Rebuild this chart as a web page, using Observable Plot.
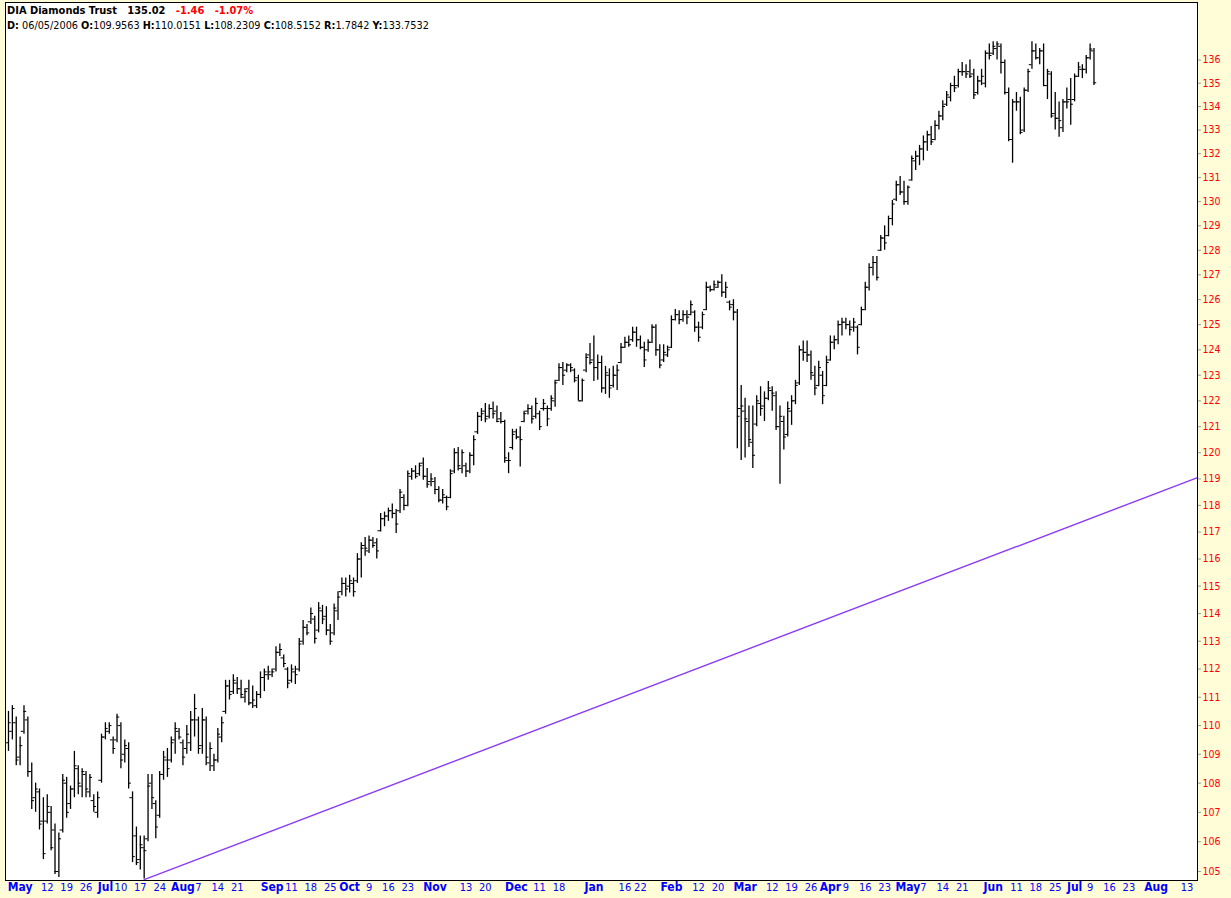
<!DOCTYPE html>
<html><head><meta charset="utf-8">
<script src="https://cdn.jsdelivr.net/npm/d3@7"></script>
<script src="https://cdn.jsdelivr.net/npm/@observablehq/plot@0.6"></script>
<style>
html,body{margin:0;padding:0;background:#fffcd8;}
#wrap{position:relative;width:1231px;height:898px;overflow:hidden;}
#hdr{position:absolute;left:7px;top:3px;font-family:"DejaVu Sans Condensed","DejaVu Sans",sans-serif;color:#000;white-space:pre;}
#hdr .l1{font-size:11px;font-weight:bold;line-height:15px;}
#hdr .l2{font-size:10.8px;line-height:15px;}
#hdr .red{color:#ff0000;}
</style></head><body>
<div id="wrap"><div id="chart"></div>
<div id="hdr"><div class="l1">DIA Diamonds Trust   135.02   <span class="red">-1.46   -1.07%</span></div><div class="l2"><b>D:</b> 06/05/2006 <b>O:</b>109.9563 <b>H:</b>110.0151 <b>L:</b>108.2309 <b>C:</b>108.5152 <b>R:</b>1.7842 <b>Y:</b>133.7532</div></div>
</div>
<script>
const opens = [109.4,109.8,110.1,108.9,109.8,110.2,108.4,107.5,107.7,106.7,106.7,107.0,106.4,105.0,106.4,108.0,107.3,107.8,108.5,107.9,108.3,107.7,107.4,107.0,108.1,109.6,109.8,109.5,109.5,110.0,109.0,109.2,107.5,106.2,105.4,105.8,106.1,108.0,107.3,106.9,108.3,108.8,108.8,109.5,109.8,109.4,109.2,109.4,110.2,110.2,109.3,110.2,108.7,108.6,108.8,109.6,110.5,111.4,111.2,111.5,111.3,111.0,111.3,110.8,110.7,111.1,111.7,111.8,111.8,112.0,112.6,112.4,112.0,111.6,111.9,112.0,113.0,113.5,113.7,113.8,113.4,114.1,113.9,113.4,113.3,114.1,114.8,115.1,115.0,115.1,115.2,116.0,116.5,116.3,116.7,116.6,117.05,117.5,117.6,117.8,117.7,117.8,118.3,118.0,119.1,119.3,119.2,119.6,119.1,118.9,118.9,118.6,118.2,118.3,118.3,119.3,120.0,119.4,119.5,119.3,119.9,120.8,121.4,121.6,121.4,121.7,121.6,121.3,121.2,119.7,120.2,120.8,120.6,121.2,121.6,121.7,121.4,121.5,121.7,121.7,121.7,122.0,122.8,123.3,123.2,123.4,123.2,122.9,122.0,123.2,123.8,123.6,123.3,123.5,122.5,123.0,122.6,123.0,123.5,124.1,124.3,124.4,124.7,124.4,124.1,124.0,124.3,124.9,124.0,123.6,123.8,124.1,125.2,125.4,125.2,125.4,125.4,125.5,124.9,124.9,125.6,126.5,126.4,126.5,126.7,126.3,125.9,125.8,125.5,121.7,121.6,121.2,120.4,121.1,121.9,121.8,122.1,122.4,122.2,121.0,121.2,120.7,121.6,122.0,122.7,124.0,123.9,123.8,123.0,122.6,123.0,122.6,123.6,124.3,124.4,125.0,125.1,125.0,124.9,124.9,125.0,125.6,126.5,127.3,127.5,128.0,128.5,128.6,129.3,130.1,130.7,130.4,130.0,130.9,131.7,131.9,132.2,132.5,132.8,132.6,133.2,133.6,134.1,134.4,134.9,134.9,135.5,135.5,135.5,135.4,134.6,135.1,135.0,136.3,136.3,136.5,136.6,135.9,134.6,132.6,134.2,134.2,133.0,134.7,135.8,136.4,136.1,136.4,134.9,135.4,133.7,133.5,133.1,134.2,134.3,134.3,135.3,135.6,135.6,136.1,136.4];
const highs = [110.5,110.7,110.3,109.6,110.7,110.3,108.7,108.0,107.8,107.5,107.6,107.2,106.6,106.3,108.3,108.2,107.9,109.1,108.6,108.5,108.4,108.3,107.6,107.7,109.7,110.1,110.1,109.6,110.4,110.1,109.5,109.4,107.7,106.5,106.2,106.2,108.3,108.3,107.4,108.4,109.1,109.2,109.6,110.1,109.9,109.5,110.0,110.5,111.1,110.3,110.6,110.3,109.4,109.0,109.9,110.3,111.6,111.6,111.8,111.7,111.6,111.3,111.6,111.4,111.2,111.9,112.0,112.1,112.0,112.8,112.9,112.5,112.05,112.15,112.1,113.1,113.75,113.6,114.2,113.9,114.4,114.3,114.25,113.6,114.35,114.8,115.3,115.3,115.4,115.3,116.2,116.6,116.8,116.85,116.8,116.75,117.7,117.75,117.9,118.05,117.85,118.6,118.4,119.3,119.4,119.5,119.6,119.8,119.4,119.2,119.05,118.7,118.6,118.35,119.35,120.15,120.2,120.1,119.6,120.0,120.65,121.55,121.7,121.9,121.85,121.95,121.8,121.55,121.25,120.0,120.9,120.9,121.0,121.6,121.85,121.8,122.1,121.6,122.05,121.8,122.2,122.8,123.45,123.5,123.45,123.45,123.25,123.0,122.85,123.85,124.25,124.55,123.8,123.75,123.35,123.25,123.35,123.4,124.25,124.5,124.55,124.9,124.9,124.55,124.3,124.4,125.0,125.0,124.2,124.2,124.15,125.35,125.6,125.55,125.55,125.55,125.95,125.55,125.1,125.5,126.7,126.55,126.75,126.75,127.0,126.7,125.95,126.0,125.6,122.6,122.1,121.8,121.8,122.2,122.55,122.35,122.75,122.55,122.35,121.8,121.4,121.95,122.2,122.8,124.15,124.35,124.35,123.95,123.35,123.55,123.15,123.75,124.55,124.55,125.15,125.25,125.25,125.15,125.25,124.95,125.7,126.7,127.45,127.75,127.75,128.6,129.0,129.4,130.05,130.85,131.05,130.85,130.65,131.9,132.1,132.35,132.75,132.95,133.15,133.4,133.8,134.25,134.65,135.0,135.3,135.6,135.9,135.8,136.0,135.6,135.3,135.6,136.4,136.7,136.8,136.8,136.7,136.0,134.8,134.3,134.6,134.4,134.8,135.6,136.8,136.7,136.5,136.7,135.6,135.5,134.6,134.2,134.3,134.8,135.2,135.4,135.9,135.8,136.2,136.7,136.5];
const lows = [109.1,109.5,108.6,108.6,109.7,108.2,107.1,107.0,106.4,105.4,106.6,105.7,104.9,104.8,106.3,106.8,107.1,107.5,107.6,107.5,107.5,107.5,107.0,106.8,108.0,109.5,109.7,109.0,109.4,108.5,108.7,107.8,105.3,105.2,105.05,104.75,106.0,107.1,106.1,106.8,108.1,108.2,108.7,109.0,109.5,108.6,109.0,109.1,109.6,109.0,109.0,108.6,108.4,108.4,108.7,109.4,110.4,110.9,111.1,111.1,110.95,110.8,110.7,110.6,110.6,110.95,111.2,111.6,111.7,111.9,112.45,112.05,111.3,111.5,111.45,111.9,112.85,113.2,113.6,112.9,113.3,113.6,113.2,112.85,113.2,113.75,114.65,114.6,114.75,114.6,115.1,115.3,116.1,116.2,116.4,116.0,117.0,117.2,117.4,117.5,116.95,117.7,117.8,117.95,118.95,119.0,119.1,118.95,118.65,118.7,118.4,118.1,118.05,117.8,118.25,119.2,119.3,119.2,119.05,119.2,119.5,120.7,121.2,121.15,121.3,121.3,121.15,121.1,119.6,119.2,120.1,120.5,119.45,121.15,121.45,121.1,121.3,120.85,121.6,121.0,121.6,121.75,122.75,122.6,123.1,123.1,122.7,122.0,121.95,123.1,123.4,122.75,122.8,122.3,122.25,122.1,122.5,122.4,123.45,124.05,124.1,124.3,124.1,124.0,123.3,123.9,124.25,123.75,123.25,123.5,123.7,124.05,125.15,125.0,125.1,125.0,125.35,124.7,124.3,124.8,125.55,126.3,126.35,126.45,126.1,126.05,125.55,125.15,120.15,119.7,119.8,120.2,119.4,121.0,121.4,121.2,122.0,121.6,120.85,118.8,120.1,120.6,121.05,121.85,122.6,123.55,123.5,122.8,122.2,122.55,121.85,122.55,123.55,124.0,124.2,124.55,124.8,124.55,124.7,123.8,124.95,125.55,126.35,126.95,126.75,127.95,128.0,128.55,129.0,130.0,130.25,129.85,129.85,130.85,131.3,131.5,131.7,132.1,132.35,132.55,133.0,133.4,134.0,134.2,134.6,134.8,135.3,135.2,135.2,134.3,134.5,134.9,134.8,136.0,136.2,136.0,135.4,134.5,132.5,131.6,133.8,132.8,132.9,134.6,135.6,136.0,135.8,134.85,134.3,133.5,133.0,132.7,132.9,133.9,133.2,134.2,135.25,135.2,135.4,136.0,134.9];
const closes = [110.1,110.6,108.8,109.3,110.5,108.4,107.4,107.8,106.6,105.6,107.2,105.8,105.0,106.1,108.1,107.0,107.8,108.6,108.0,108.4,107.8,108.2,107.2,107.5,109.6,109.9,110.0,109.2,110.3,108.8,109.3,108.0,105.5,105.3,105.9,105.7,107.9,107.5,106.5,108.3,108.9,108.5,109.4,109.9,109.6,108.9,109.7,110.2,110.6,109.2,110.2,108.9,109.2,108.8,109.7,110.1,111.4,111.1,111.6,111.3,111.1,111.2,110.8,110.9,111.1,111.7,111.9,111.9,111.9,112.6,112.7,112.2,111.5,112.0,111.8,112.9,113.5,113.3,114.0,113.1,114.2,113.8,113.4,113.0,114.2,114.6,115.1,114.9,115.2,114.8,116.0,116.4,116.4,116.7,116.5,116.3,117.5,117.6,117.8,117.7,117.3,118.5,118.0,119.2,119.3,119.1,119.5,119.1,118.8,119.0,118.6,118.2,118.4,117.95,119.2,120.0,119.5,120.0,119.3,119.9,120.5,121.4,121.5,121.3,121.7,121.5,121.2,121.2,119.8,119.7,120.7,120.6,120.5,121.5,121.7,121.3,121.9,121.0,121.9,121.3,122.1,122.7,123.3,123.0,123.4,123.3,122.8,122.0,122.8,123.7,123.5,123.3,123.5,122.5,123.1,122.5,123.0,123.2,124.1,124.3,124.2,124.7,124.4,124.1,123.6,124.3,124.9,124.0,123.4,123.9,124.0,125.2,125.4,125.2,125.4,125.3,125.8,124.9,124.5,125.4,126.5,126.4,126.6,126.7,126.3,126.5,125.7,125.5,121.4,121.8,121.3,120.5,119.9,122.0,121.7,122.1,122.5,122.3,121.0,121.4,120.6,121.7,122.0,122.6,124.0,123.9,123.8,123.1,122.5,123.3,122.2,123.5,124.3,124.4,125.0,125.1,125.0,124.8,125.1,124.1,125.6,126.5,127.3,127.5,126.9,128.5,128.3,129.3,129.9,130.7,130.4,130.0,130.6,131.8,131.9,132.2,132.5,132.8,132.5,133.2,133.6,134.0,134.5,134.9,134.8,135.5,135.5,135.4,135.3,134.5,135.1,135.3,136.3,136.2,136.6,136.7,135.9,134.6,132.6,134.2,134.2,132.9,134.7,135.5,136.4,136.1,136.4,134.9,135.5,133.6,133.5,133.4,134.2,134.2,134.1,135.3,135.7,135.6,136.1,136.48,135.02];

const monthLabels = ["May","Jul","Aug","Sep","Oct","Nov","Dec","Jan","Feb","Mar","Apr","May","Jun","Jul","Aug"];
const monthIdx = [3,25,45,68,88,110,131,151,171,190,212,232,254,275,296];
const dayLabels = ["12","19","26","10","17","24","7","14","21","11","18","25","9","16","23","13","20","11","18","16","22","12","20","12","19","26","9","16","23","7","14","21","11","18","25","9","16","23","13"];
const dayIdx = [10,15,20,29,34,39,49,54,59,73,78,83,93,98,103,118,123,137,142,159,163,178,183,197,202,207,216,221,226,236,241,246,260,265,270,279,284,289,304];
const yTicks = [105,106,107,108,109,110,111,112,113,114,115,116,117,118,119,120,121,122,123,124,125,126,127,128,129,130,131,132,133,134,135,136];
const trendIdx = [35, 306.7];
const trendPrice = [104.73, 119.05];

const bars = opens.map((o, i) => ({i, o, h: highs[i], l: lows[i], c: closes[i]}));
const months = monthLabels.map((t, k) => ({t, x: monthIdx[k]}));
const days = dayLabels.map((t, k) => ({t, x: dayIdx[k]}));
const trend = trendIdx.map((x, k) => ({x, y: trendPrice[k]}));
const F = '"DejaVu Sans Condensed","DejaVu Sans",sans-serif';

const chart = Plot.plot({
  width: 1231, height: 898,
  marginLeft: 5, marginRight: 34, marginTop: 2, marginBottom: 18,
  style: {background: "#fffcd8", fontFamily: F, fontSize: "10.5px", overflow: "visible"},
  x: {domain: [-0.77, 306.7], axis: null},
  y: {type: "log", domain: [104.70, 138.52]},
  marks: [
    Plot.frame({fill: "white", stroke: "none"}),
    Plot.line(trend, {x: "x", y: "y", stroke: "#8a3cf5", strokeWidth: 1.4}),
    Plot.ruleX(bars, {x: "i", y1: "l", y2: "h", stroke: "black", strokeWidth: 1.3}),
    Plot.ruleY(bars, {y: "o", x1: d => d.i - 0.7, x2: "i", stroke: "black", strokeWidth: 1}),
    Plot.ruleY(bars, {y: "c", x1: "i", x2: d => d.i + 0.7, stroke: "black", strokeWidth: 1}),
    Plot.axisY({anchor: "right", ticks: yTicks, tickFormat: d => String(d), tickSize: 3, tickPadding: 2, stroke: "#9a9a9a", fill: "#ff0000", fontSize: 10.5, label: null}),
    Plot.text(months, {x: "x", text: "t", frameAnchor: "bottom", dy: 10, fill: "#0000ff", fontWeight: "bold", fontSize: 12}),
    Plot.text(days, {x: "x", text: "t", frameAnchor: "bottom", dy: 10, fill: "#0000ff", fontSize: 11}),
    Plot.frame({stroke: "black"})
  ]
});
document.getElementById("chart").appendChild(chart);
</script>
</body></html>
